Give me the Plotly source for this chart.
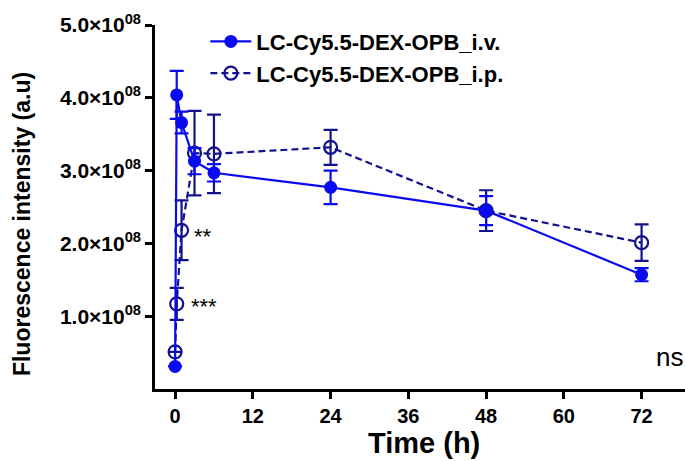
import plotly.graph_objects as go

# ---- data ----
iv_time = [0, 0.25, 1, 3, 6, 24, 48, 72]
iv_value = [0.31e8, 4.04e8, 3.66e8, 3.13e8, 2.97e8, 2.77e8, 2.45e8, 1.57e8]
iv_err = [0, 0.33e8, 0.15e8, 0.18e8, 0.12e8, 0.23e8, 0.20e8, 0.09e8]

ip_time = [0, 0.25, 1, 3, 6, 24, 48, 72]
ip_value = [0.51e8, 1.17e8, 2.18e8, 3.24e8, 3.23e8, 3.32e8, 2.45e8, 2.01e8]
ip_err = [0, 0.22e8, 0.41e8, 0.58e8, 0.54e8, 0.24e8, 0.28e8, 0.25e8]

x_ticks = [0, 12, 24, 36, 48, 60, 72]
y_ticks = [1e8, 2e8, 3e8, 4e8, 5e8]
y_ticktext = ["1.0×10<sup>08</sup>", "2.0×10<sup>08</sup>", "3.0×10<sup>08</sup>",
              "4.0×10<sup>08</sup>", "5.0×10<sup>08</sup>"]

name_iv = "LC-Cy5.5-DEX-OPB_i.v."
name_ip = "LC-Cy5.5-DEX-OPB_i.p."

IV_COLOR = "#0A0AF0"
IP_COLOR = "#12128C"
FONT = "Liberation Sans, Arial, sans-serif"

fig = go.Figure()

fig.add_trace(go.Scatter(
    x=ip_time, y=ip_value, name=name_ip, mode="lines+markers",
    line=dict(color=IP_COLOR, width=2.2, dash="7px,4px"),
    marker=dict(symbol="circle-open", size=13, color=IP_COLOR, line=dict(width=2.2, color=IP_COLOR)),
    error_y=dict(type="data", array=ip_err, visible=True, color=IP_COLOR, thickness=2.2, width=7),
))
fig.add_trace(go.Scatter(
    x=iv_time, y=iv_value, name=name_iv, mode="lines+markers",
    line=dict(color=IV_COLOR, width=2.2),
    marker=dict(symbol="circle", size=13, color=IV_COLOR),
    error_y=dict(type="data", array=iv_err, visible=True, color=IV_COLOR, thickness=2.2, width=7),
))

# significance marks next to the i.p. points
fig.add_annotation(x=ip_time[2], y=ip_value[2], text="**", showarrow=False,
                   xanchor="left", yanchor="middle", xshift=10, yshift=-6,
                   font=dict(family=FONT, size=22, color="black"))
fig.add_annotation(x=ip_time[1], y=ip_value[1], text="***", showarrow=False,
                   xanchor="left", yanchor="middle", xshift=12, yshift=-3,
                   font=dict(family=FONT, size=22, color="black"))
fig.add_annotation(x=1.0, y=0.088, xref="paper", yref="paper", text="ns", showarrow=False,
                   xanchor="right", yanchor="middle",
                   font=dict(family=FONT, size=26, color="black"))

# axis titles
fig.add_annotation(x=-0.251, y=0.453, xref="paper", yref="paper",
                   text="Fluorescence intensity (a.u)", textangle=-90, showarrow=False,
                   xanchor="center", yanchor="middle",
                   font=dict(family=FONT, size=23, color="black", weight="bold"))
fig.add_annotation(x=0.5075, y=-0.147, xref="paper", yref="paper",
                   text="Time (h)", showarrow=False, xanchor="center", yanchor="middle",
                   font=dict(family=FONT, size=29, color="black", weight="bold"))

fig.update_layout(
    width=685, height=461,
    margin=dict(l=155, r=0, t=25, b=72),
    paper_bgcolor="white", plot_bgcolor="white",
    showlegend=True,
    legend=dict(
        x=0.095, y=1.012, xanchor="left", yanchor="top",
        traceorder="reversed",
        font=dict(family=FONT, size=22, color="black", weight="bold"),
        bgcolor="rgba(0,0,0,0)", itemwidth=41,
    ),
    font=dict(family=FONT, color="black"),
)

fig.update_xaxes(
    range=[-3.1, 78.7], tickvals=x_ticks, showgrid=False, zeroline=False,
    showline=True, linecolor="black", linewidth=2.5,
    ticks="outside", ticklen=7, tickwidth=2.5, tickcolor="black",
    tickfont=dict(family=FONT, size=20, color="black", weight="bold"),
)
fig.update_yaxes(
    range=[0, 5e8], tickvals=y_ticks, ticktext=y_ticktext, showgrid=False, zeroline=False,
    showline=True, linecolor="black", linewidth=2.5,
    ticks="outside", ticklen=7, tickwidth=2.5, tickcolor="black",
    tickfont=dict(family=FONT, size=21, color="black", weight="bold"),
)

fig.write_html("out.html", config={"displayModeBar": False},
               post_script="document.body.style.margin='0px';")
